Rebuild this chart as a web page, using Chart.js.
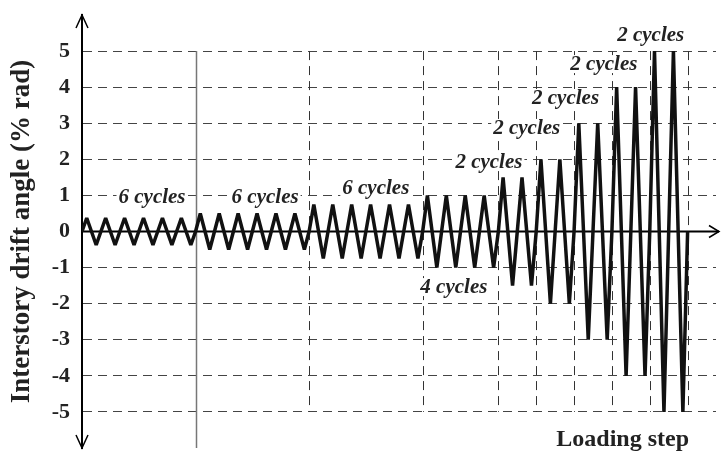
<!DOCTYPE html>
<html>
<head>
<meta charset="utf-8">
<script src="https://cdn.jsdelivr.net/npm/chart.js@4.4.1/dist/chart.umd.min.js"></script>
<style>
  body { margin: 0; background: #fff; }
  canvas { display: block; }
</style>
</head>
<body>
<canvas id="myChart" width="721" height="451"></canvas>
<script>
// loading protocol: drift amplitude (% rad) and number of cycles per stage
const amplitudes = [0.375, 0.5, 0.75, 1, 1.5, 2, 3, 4, 5];
const cycleCounts = [6, 6, 6, 4, 2, 2, 2, 2, 2];
const yTicks = [5, 4, 3, 2, 1, 0, -1, -2, -3, -4, -5];
const cycleLabels = ['6 cycles', '6 cycles', '6 cycles', '4 cycles',
  '2 cycles', '2 cycles', '2 cycles', '2 cycles', '2 cycles'];
// where each label sits, in chart units [step, drift]
const labelPos = [[14.8, 0.96], [38.7, 0.96], [62.1, 1.23], [78.6, -1.54],
  [86.0, 1.95], [94.0, 2.87], [102.2, 3.70], [110.3, 4.64], [120.2, 5.45]];

// build the zigzag: every cycle is 0 -> +A -> 0 -> -A -> 0
const points = [{ x: 0, y: 0 }];
const stageEnds = [];
let q = 0;
amplitudes.forEach((a, i) => {
  for (let c = 0; c < cycleCounts[i]; c++) {
    points.push({ x: q + 1, y: a });
    points.push({ x: q + 2, y: 0 });
    points.push({ x: q + 3, y: -a });
    points.push({ x: q + 4, y: 0 });
    q += 4;
  }
  stageEnds.push(q);
});

const serif = '"Liberation Serif", "Times New Roman", serif';

const extras = {
  id: 'extras',
  beforeDatasetsDraw(chart) {
    const { ctx, scales: { x, y } } = chart;
    ctx.save();
    // stage separators
    stageEnds.forEach((s, i) => {
      const px = Math.round(x.getPixelForValue(s)) + 0.5;
      ctx.beginPath();
      if (i === 0) {
        ctx.strokeStyle = '#777';
        ctx.lineWidth = 1.5;
        ctx.setLineDash([]);
        ctx.moveTo(px, y.getPixelForValue(5));
        ctx.lineTo(px, y.getPixelForValue(-6));
      } else {
        ctx.strokeStyle = '#333';
        ctx.lineWidth = 1;
        ctx.setLineDash([9, 6]);
        ctx.moveTo(px, y.getPixelForValue(5));
        ctx.lineTo(px, y.getPixelForValue(-5));
      }
      ctx.stroke();
    });
    ctx.setLineDash([]);

    // zero line with arrow
    const y0 = y.getPixelForValue(0);
    ctx.strokeStyle = '#000';
    ctx.lineWidth = 2;
    ctx.beginPath();
    ctx.moveTo(x.left, y0);
    ctx.lineTo(719, y0);
    ctx.stroke();
    ctx.lineWidth = 1.5;
    ctx.beginPath();
    ctx.moveTo(709, y0 - 6);
    ctx.lineTo(719, y0);
    ctx.lineTo(709, y0 + 6);
    ctx.stroke();

    // y axis arrows
    const ax = x.left;
    ctx.beginPath();
    ctx.moveTo(ax - 6, y.top + 13);
    ctx.lineTo(ax, y.top);
    ctx.lineTo(ax + 6, y.top + 13);
    ctx.moveTo(ax - 6, y.bottom - 13);
    ctx.lineTo(ax, y.bottom);
    ctx.lineTo(ax + 6, y.bottom - 13);
    ctx.stroke();

    // cycle labels
    ctx.font = 'bold italic 21px ' + serif;
    ctx.textAlign = 'center';
    ctx.textBaseline = 'middle';
    cycleLabels.forEach((t, i) => {
      const px = x.getPixelForValue(labelPos[i][0]);
      const py = y.getPixelForValue(labelPos[i][1]);
      const w = ctx.measureText(t).width;
      ctx.fillStyle = '#fff';
      ctx.fillRect(px - w / 2 - 2, py - 9, w + 4, 18);
      ctx.fillStyle = '#222';
      ctx.fillText(t, px, py + 1);
    });

    // x axis title
    ctx.font = 'bold 24px ' + serif;
    ctx.fillStyle = '#222';
    ctx.textAlign = 'right';
    ctx.fillText('Loading step', 689, 440);
    ctx.restore();
  }
};

new Chart(document.getElementById('myChart'), {
  type: 'line',
  data: {
    datasets: [{
      data: points,
      borderColor: '#111',
      borderWidth: 3.5,
      borderJoinStyle: 'bevel',
      pointRadius: 0,
      tension: 0,
      fill: false
    }]
  },
  options: {
    responsive: false,
    animation: false,
    layout: { padding: { top: 15, bottom: 3, right: 5, left: 0 } },
    plugins: { legend: { display: false }, tooltip: { enabled: false } },
    scales: {
      x: {
        type: 'linear',
        min: 0,
        max: 134,
        display: false
      },
      y: {
        min: -6,
        max: 6,
        afterFit(scale) {
          scale.width = 82;
          scale.paddingTop = 0;
          scale.paddingBottom = 0;
        },
        afterBuildTicks(scale) { scale.ticks = yTicks.map(v => ({ value: v })); },
        grid: {
          drawTicks: false,
          color: (c) => c.tick && c.tick.value === 0 ? 'rgba(0,0,0,0)' : '#444',
          lineWidth: 1
        },
        border: { display: true, color: '#000', width: 2, dash: [9, 6] },
        ticks: {
          padding: 12,
          color: '#222',
          font: { family: serif, size: 22, weight: 'bold' }
        },
        title: {
          display: true,
          text: 'Interstory drift angle (% rad)',
          color: '#222',
          font: { family: serif, size: 27, weight: 'bold' },
          padding: { top: 6, bottom: 0 }
        }
      }
    }
  },
  plugins: [extras]
});
</script>
</body>
</html>
